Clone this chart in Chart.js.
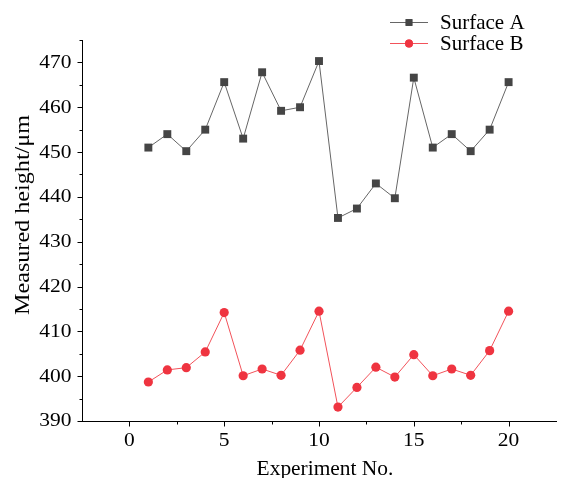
<!DOCTYPE html>
<html>
<head>
<meta charset="utf-8">
<script src="https://cdn.jsdelivr.net/npm/chart.js@4"></script>
<style>
  html, body { margin: 0; padding: 0; background: #fff; }
  #wrap { width: 566px; height: 478px; position: relative; }
</style>
</head>
<body>
<div id="wrap"><canvas id="c" width="566" height="478"></canvas></div>
<script>
const experiments = [1,2,3,4,5,6,7,8,9,10,11,12,13,14,15,16,17,18,19,20];
const surfaceA = [451.0,454.0,450.2,455.0,465.6,453.0,467.8,459.2,460.0,470.3,435.3,437.4,443.0,439.7,466.6,451.0,454.0,450.2,455.0,465.6];
const surfaceB = [398.7,401.4,401.9,405.4,414.2,400.1,401.6,400.2,405.8,414.5,393.1,397.5,402.0,399.8,404.8,400.1,401.6,400.2,405.7,414.5];
const seriesNames = ['Surface A', 'Surface B'];
const yTickValues = [390,400,410,420,430,440,450,460,470];
const xTickValues = [0,5,10,15,20];
const xTitle = 'Experiment No.';
const yTitle = 'Measured height/μm';

const FONT = '"Liberation Serif", "Times New Roman", serif';

function stretchedText(ctx, text, x, y, sx, align, baseline) {
  ctx.save();
  ctx.translate(x, y);
  ctx.scale(sx, 1);
  ctx.textAlign = align;
  ctx.textBaseline = baseline;
  ctx.fillText(text, 0, 0);
  ctx.restore();
}

const axesDecor = {
  id: 'axesDecor',
  afterDraw(chart) {
    const ctx = chart.ctx;
    const xs = chart.scales.x, ys = chart.scales.y;
    const axX = Math.round(ys.right) + 0.5;
    const axY = Math.round(xs.top) + 0.5;
    ctx.save();
    ctx.strokeStyle = '#000';
    ctx.lineWidth = 1;
    ctx.beginPath();
    // y major + minor ticks
    yTickValues.forEach(v => {
      const p = Math.round(ys.getPixelForValue(v)) + 0.5;
      ctx.moveTo(axX - 5, p); ctx.lineTo(axX, p);
      if (v + 5 <= ys.max) {
        const q = Math.round(ys.getPixelForValue(v + 5)) + 0.5;
        ctx.moveTo(axX - 3, q); ctx.lineTo(axX, q);
      }
    });
    // x major + minor ticks
    xTickValues.forEach((v, i) => {
      const p = Math.round(xs.getPixelForValue(v)) + 0.5;
      ctx.moveTo(p, axY); ctx.lineTo(p, axY + 5);
      [v - 2.5, v + 2.5].forEach(m => {
        if (m > xs.min && m < xs.max && (i === 0 || m > v)) {
          const q = Math.round(xs.getPixelForValue(m)) + 0.5;
          ctx.moveTo(q, axY); ctx.lineTo(q, axY + 3);
        }
      });
    });
    ctx.stroke();

    ctx.fillStyle = '#000';
    // tick labels
    ctx.font = '19px ' + FONT;
    yTickValues.forEach(v => {
      stretchedText(ctx, String(v), axX - 11, ys.getPixelForValue(v) + 0.5, 1.13, 'right', 'middle');
    });
    xTickValues.forEach(v => {
      stretchedText(ctx, String(v), xs.getPixelForValue(v), axY + 10, 1.13, 'center', 'top');
    });
    // axis titles
    ctx.font = '21px ' + FONT;
    stretchedText(ctx, xTitle, 325, 474.5, 1.02, 'center', 'alphabetic');
    ctx.save();
    ctx.translate(28.5, 215);
    ctx.rotate(-Math.PI / 2);
    stretchedText(ctx, yTitle, 0, 0, 1.15, 'center', 'alphabetic');
    ctx.restore();

    // legend
    const rows = [22, 43];
    chart.data.datasets.forEach((ds, i) => {
      const y = rows[i];
      ctx.strokeStyle = ds.borderColor;
      ctx.lineWidth = 1;
      ctx.beginPath();
      ctx.moveTo(390, y + 0.5); ctx.lineTo(428, y + 0.5);
      ctx.stroke();
      ctx.fillStyle = ds.pointBackgroundColor;
      Chart.helpers.drawPoint(ctx, {
        pointStyle: ds.pointStyle, radius: ds.pointRadius * 0.85, borderWidth: 0
      }, 409, y + 0.5);
      ctx.fill();
      ctx.fillStyle = '#000';
      ctx.font = '21px ' + FONT;
      stretchedText(ctx, ds.label, 440, y + 6.5, 1.0, 'left', 'alphabetic');
    });
    ctx.restore();
  }
};

new Chart(document.getElementById('c'), {
  type: 'line',
  data: {
    datasets: [
      {
        label: seriesNames[0],
        data: experiments.map((x, i) => ({ x: x, y: surfaceA[i] })),
        borderColor: '#666666',
        borderWidth: 1,
        pointStyle: 'rect',
        pointRadius: 5.6,
        pointBackgroundColor: '#454545',
        pointBorderColor: '#454545',
        pointBorderWidth: 0,
        tension: 0
      },
      {
        label: seriesNames[1],
        data: experiments.map((x, i) => ({ x: x, y: surfaceB[i] })),
        borderColor: '#f2525a',
        borderWidth: 1,
        pointStyle: 'circle',
        pointRadius: 4.6,
        pointBackgroundColor: '#ef3440',
        pointBorderColor: '#ef3440',
        pointBorderWidth: 0,
        tension: 0
      }
    ]
  },
  options: {
    responsive: false,
    animation: false,
    layout: { padding: { top: 40, right: 10, left: 0, bottom: 0 } },
    plugins: { legend: { display: false }, tooltip: { enabled: false } },
    scales: {
      x: {
        type: 'linear',
        min: -2.5, max: 22.5,
        ticks: { display: false, stepSize: 5 },
        afterBuildTicks: (s) => { s.ticks = xTickValues.map(v => ({ value: v })); },
        afterFit: (s) => { s.height = 57; },
        grid: { display: false },
        border: { display: true, color: '#000', width: 1 },
        title: { display: false }
      },
      y: {
        type: 'linear',
        min: 390, max: 475,
        ticks: { display: false, stepSize: 10 },
        afterBuildTicks: (s) => { s.ticks = yTickValues.map(v => ({ value: v })); },
        afterFit: (s) => { s.width = 82; },
        grid: { display: false },
        border: { display: true, color: '#000', width: 1 },
        title: { display: false }
      }
    }
  },
  plugins: [axesDecor]
});
</script>
</body>
</html>
